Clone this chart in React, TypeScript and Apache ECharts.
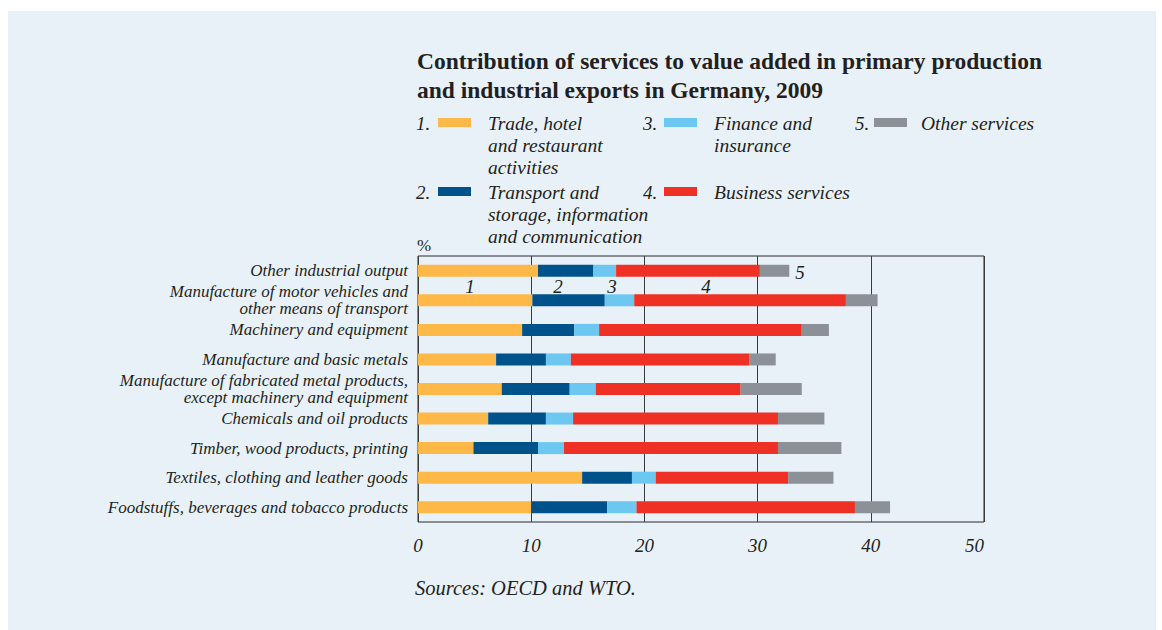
import React, { useEffect, useRef } from "react";
import * as echarts from "echarts";

const categories = [
  "Other industrial output",
  "Manufacture of motor vehicles and\nother means of transport",
  "Machinery and equipment",
  "Manufacture and basic metals",
  "Manufacture of fabricated metal products,\nexcept machinery and equipment",
  "Chemicals and oil products",
  "Timber, wood products, printing",
  "Textiles, clothing and leather goods",
  "Foodstuffs, beverages and tobacco products",
];

const tradeHotel = [10.6, 10.1, 9.2, 6.9, 7.4, 6.2, 4.9, 14.5, 10.0];
const transportInfo = [4.9, 6.4, 4.6, 4.4, 6.0, 5.1, 5.7, 4.4, 6.7];
const financeInsurance = [2.0, 2.6, 2.2, 2.2, 2.3, 2.4, 2.3, 2.1, 2.6];
const businessServices = [12.7, 18.7, 17.9, 15.8, 12.8, 18.1, 18.9, 11.7, 19.3];
const otherServices = [2.6, 2.8, 2.4, 2.3, 5.4, 4.1, 5.6, 4.0, 3.1];

const seriesNames = [
  "Trade, hotel\nand restaurant\nactivities",
  "Transport and\nstorage, information\nand communication",
  "Finance and\ninsurance",
  "Business services",
  "Other services",
];
const seriesColors = ["#FDB847", "#00528B", "#6DC8F1", "#EE3124", "#8B9197"];
const seriesData = [tradeHotel, transportInfo, financeInsurance, businessServices, otherServices];

const xTicks = [0, 10, 20, 30, 40, 50];
const annotations = ["1", "2", "3", "4", "5"];

const SERIF = "'Liberation Serif', 'DejaVu Serif', serif";
const TEXT = "#231F20";

export default function App() {
  const ref = useRef<HTMLDivElement>(null);

  useEffect(() => {
    if (!ref.current) return;
    const chart = echarts.init(ref.current, null, { renderer: "svg" });

    const legendPos = [
      { num: 416, sw: 438, tx: 488, y: 123 },
      { num: 416, sw: 438, tx: 488, y: 192 },
      { num: 643, sw: 664, tx: 714, y: 123 },
      { num: 643, sw: 664, tx: 714, y: 192 },
      { num: 855, sw: 874, tx: 921, y: 123 },
    ];

    const legendGraphics: any[] = [];
    seriesNames.forEach((name, i) => {
      const p = legendPos[i];
      legendGraphics.push({
        type: "text",
        x: p.num,
        y: p.y,
        style: {
          text: `${i + 1}.`,
          font: `italic 19px ${SERIF}`,
          fill: TEXT,
          verticalAlign: "middle",
        },
      });
      legendGraphics.push({
        type: "rect",
        shape: { x: p.sw, y: p.y - 5, width: 33, height: 9 },
        style: { fill: seriesColors[i] },
      });
      legendGraphics.push({
        type: "text",
        x: p.tx,
        y: p.y - 11,
        style: {
          text: name,
          font: `italic 19.5px ${SERIF}`,
          fill: TEXT,
          lineHeight: 22,
          verticalAlign: "top",
        },
      });
    });

    const annPos = [
      [470, 286],
      [558, 286],
      [612, 286],
      [706, 286],
      [800, 272],
    ];
    const annGraphics = annotations.map((a, i) => ({
      type: "text",
      x: annPos[i][0],
      y: annPos[i][1],
      style: {
        text: a,
        font: `italic 19px ${SERIF}`,
        fill: TEXT,
        align: "center",
        verticalAlign: "middle",
      },
      z: 10,
    }));

    const option: any = {
      animation: false,
      backgroundColor: "#ffffff",
      title: {
        text: "Contribution of services to value added in primary production\nand industrial exports in Germany, 2009",
        left: 412,
        top: 41,
        textStyle: {
          fontFamily: SERIF,
          fontWeight: "bold",
          fontSize: 23.5,
          lineHeight: 29,
          color: TEXT,
        },
      },
      graphic: [
        {
          type: "rect",
          z: -10,
          silent: true,
          shape: { x: 8, y: 11, width: 1148, height: 619 },
          style: { fill: "#E9F1F8" },
        },
        {
          type: "text",
          x: 417,
          y: 245,
          style: {
            text: "%",
            font: `17px ${SERIF}`,
            fill: TEXT,
            verticalAlign: "middle",
          },
        },
        {
          type: "text",
          x: 415,
          y: 588,
          style: {
            text: "Sources: OECD and WTO.",
            font: `italic 20.5px ${SERIF}`,
            fill: TEXT,
            verticalAlign: "middle",
          },
        },
        ...legendGraphics,
        ...annGraphics,
      ],
      grid: {
        left: 418,
        right: 178,
        top: 256,
        bottom: 108,
        show: true,
        borderColor: "#2b2b2b",
        borderWidth: 1,
        backgroundColor: "transparent",
      },
      xAxis: {
        type: "value",
        min: xTicks[0],
        max: xTicks[xTicks.length - 1],
        interval: 10,
        axisLine: { show: false },
        axisTick: { show: false },
        splitLine: { show: true, lineStyle: { color: "#3a3a3a", width: 1 } },
        axisLabel: {
          fontFamily: SERIF,
          fontStyle: "italic",
          fontSize: 19,
          color: TEXT,
          margin: 14,
          alignMaxLabel: "right",
        },
      },
      yAxis: {
        type: "category",
        data: categories,
        inverse: true,
        axisLine: { show: false },
        axisTick: { show: false },
        splitLine: { show: false },
        axisLabel: {
          fontFamily: SERIF,
          fontStyle: "italic",
          fontSize: 17,
          lineHeight: 17,
          color: TEXT,
          margin: 10,
        },
      },
      series: seriesData.map((d, i) => ({
        name: seriesNames[i],
        type: "bar",
        stack: "total",
        data: d,
        barWidth: 12,
        itemStyle: { color: seriesColors[i] },
      })),
    };

    chart.setOption(option);
    return () => chart.dispose();
  }, []);

  return (
    <div
      ref={ref}
      style={{ position: "absolute", left: 0, top: 0, width: 1162, height: 630 }}
    />
  );
}
